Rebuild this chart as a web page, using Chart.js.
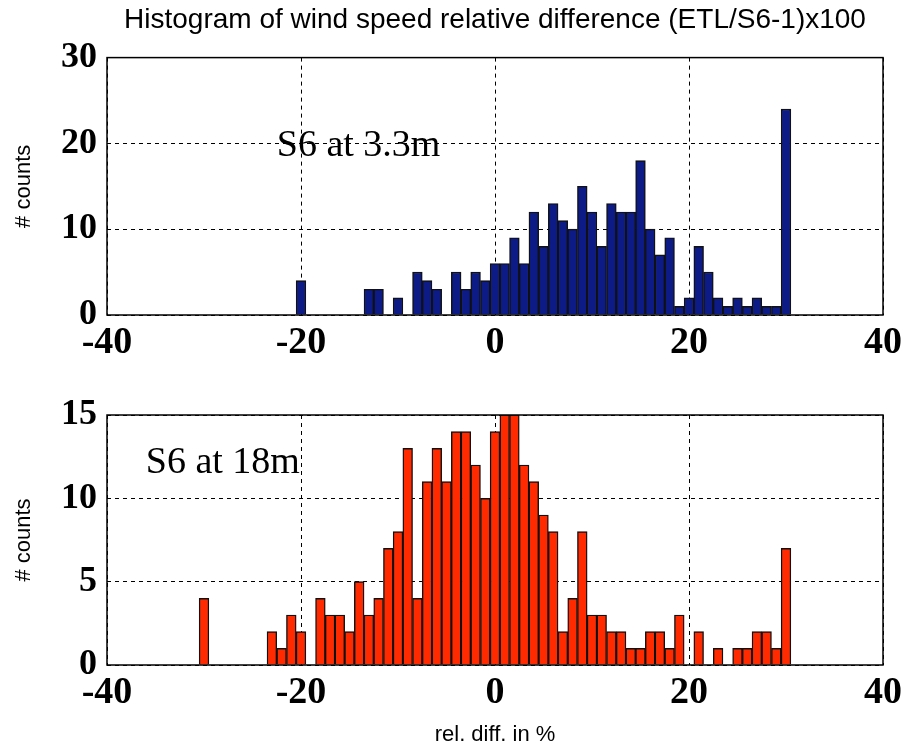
<!DOCTYPE html>
<html lang="en">
<head>
<meta charset="UTF-8">
<title>Histogram of wind speed relative difference</title>
<script src="https://cdn.jsdelivr.net/npm/chart.js@4"></script>
<style>
  body { margin: 0; background: #fff; }
  canvas { position: absolute; left: 0; }
  #top { top: 0; }
  #bottom { top: 370px; }
</style>
</head>
<body>
<canvas id="top" width="907" height="380"></canvas>
<canvas id="bottom" width="907" height="378"></canvas>
<script>
// histogram bins (centre of 1% bin) and counts, empty bins left out
const binsTop = [-20, -13, -12, -10, -8, -7, -6, -4, -3, -2, -1,
  0, 1, 2, 3, 4, 5, 6, 7, 8, 9, 10, 11, 12, 13, 14, 15, 16, 17, 18, 19,
  20, 21, 22, 23, 24, 25, 26, 27, 28, 29, 30];
const countsTop = [4, 3, 3, 2, 5, 4, 3, 5, 3, 5, 4,
  6, 6, 9, 6, 12, 8, 13, 11, 10, 15, 12, 8, 13, 12, 12, 18, 10, 7, 9, 1,
  2, 8, 5, 2, 1, 2, 1, 2, 1, 1, 24];

const binsBottom = [-30, -23, -22, -21, -20, -18, -17, -16, -15, -14, -13, -12, -11, -10,
  -9, -8, -7, -6, -5, -4, -3, -2, -1, 0, 1, 2, 3, 4, 5, 6, 7, 8, 9,
  10, 11, 12, 13, 14, 15, 16, 17, 18, 19, 21, 23, 25, 26, 27, 28, 29, 30];
const countsBottom = [4, 2, 1, 3, 2, 4, 3, 3, 2, 5, 3, 4, 7, 8,
  13, 4, 11, 13, 11, 14, 14, 12, 10, 14, 15, 15, 12, 11, 9, 8, 2, 4, 8,
  3, 3, 2, 2, 1, 1, 2, 2, 1, 3, 2, 1, 1, 1, 2, 2, 1, 7];

const xRange = [-40, 40];

// frame round the plot + the "S6 at ..." note
const framePlugin = {
  id: 'frame',
  afterDraw(chart, args, opts) {
    const { ctx, chartArea: a, scales } = chart;
    ctx.save();
    ctx.font = '38px "Liberation Serif"';
    ctx.fillStyle = '#000';
    ctx.textAlign = 'left';
    ctx.textBaseline = 'middle';
    ctx.fillText(opts.text, scales.x.getPixelForValue(opts.x), scales.y.getPixelForValue(opts.y));
    ctx.strokeStyle = '#000';
    ctx.lineWidth = 1.5;
    ctx.strokeRect(a.left, a.top, a.right - a.left, a.bottom - a.top);
    ctx.restore();
  }
};

const xTickFont = { family: '"Liberation Serif"', size: 38, weight: 'bold' };
const yTickFont = { family: '"Liberation Serif"', size: 36, weight: 'bold' };
const labelFont = { family: '"Liberation Sans"', size: 22 };

function makeHist(id, bins, counts, colour, yMax, yStep, note, extra) {
  const pts = bins.map((b, i) => ({ x: b, y: counts[i] }));
  return new Chart(document.getElementById(id), {
    type: 'bar',
    data: {
      datasets: [{
        data: pts,
        backgroundColor: colour,
        borderColor: '#111',
        borderWidth: 1.4,
        barPercentage: 1,
        categoryPercentage: 1
      }]
    },
    options: {
      responsive: false,
      animation: false,
      layout: { padding: { top: extra.padTop, right: 24, left: 0, bottom: 0 } },
      plugins: {
        legend: { display: false },
        tooltip: { enabled: false },
        title: extra.title,
        frame: note
      },
      scales: {
        x: {
          type: 'linear',
          offset: false,
          min: xRange[0], max: xRange[1],
          ticks: { stepSize: 20, font: xTickFont, color: '#000', padding: 5, maxRotation: 0 },
          grid: { color: '#000', lineWidth: 1, drawTicks: false, offset: false },
          border: { display: false, dash: [4, 4] },
          title: extra.xTitle,
          afterFit: s => { s.height = extra.xHeight; }
        },
        y: {
          min: 0, max: yMax,
          ticks: { stepSize: yStep, font: yTickFont, color: '#000', padding: 10 },
          grid: { color: '#000', lineWidth: 1, drawTicks: false },
          border: { display: false, dash: [4, 4] },
          title: { display: true, text: '# counts', font: labelFont, color: '#000', padding: { top: 11, bottom: 0 } },
          afterFit: s => { s.width = 107; }
        }
      }
    },
    plugins: [framePlugin]
  });
}

makeHist('top', binsTop, countsTop, '#0d1b87', 30, 10,
  { text: 'S6 at 3.3m', x: -22.5, y: 19.7 },
  {
    padTop: 0,
    xHeight: 65,
    title: {
      display: true, fullSize: false,
      text: 'Histogram of wind speed relative difference (ETL/S6-1)x100',
      font: { family: '"Liberation Sans"', size: 28, weight: 'normal' },
      color: '#000',
      padding: { top: 3, bottom: 21 }
    },
    xTitle: { display: false }
  });

makeHist('bottom', binsBottom, countsBottom, '#ff2a00', 15, 5,
  { text: 'S6 at 18m', x: -36, y: 12.1 },
  {
    padTop: 45,
    xHeight: 83,
    title: { display: false },
    xTitle: { display: true, text: 'rel. diff. in %', font: labelFont, color: '#000', padding: { top: 0, bottom: 0 } }
  });
</script>
</body>
</html>
